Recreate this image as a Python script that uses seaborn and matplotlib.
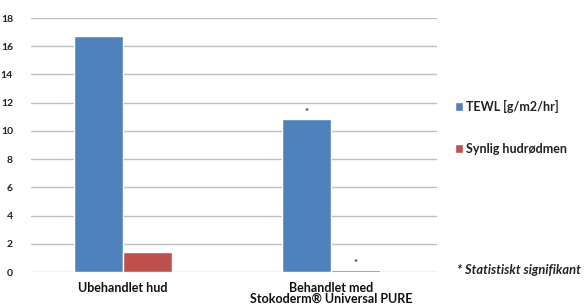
import pandas as pd
import seaborn as sns
import matplotlib.pyplot as plt
from matplotlib.patches import Patch

categories = ['Ubehandlet hud', 'Behandlet med\nStokoderm® Universal PURE']
series = ['TEWL [g/m2/hr]', 'Synlig hudrødmen']
tewl = [16.7, 10.85]
redness = [1.45, 0.12]
significant = [(1, 0), (1, 1)]  # (category, series) marked with *
colors = ['#4F81BD', '#C0504D']

df = pd.DataFrame({
    'kategori': categories * 2,
    'serie': [series[0]] * 2 + [series[1]] * 2,
    'verdi': tewl + redness,
})

sns.set_theme(style='white')
plt.rcParams['font.family'] = ['Lato', 'DejaVu Sans']

fig = plt.figure(figsize=(5.86, 3.07), dpi=100)
ax = fig.add_axes([31 / 586, 1 - 272 / 307, 406 / 586, 254 / 307])

sns.barplot(data=df, x='kategori', y='verdi', hue='serie', palette=colors,
            width=0.47, saturation=1, ax=ax, legend=False)

ax.set_xlim(-0.44, 1.51)
ax.set_ylim(0, 18)
ax.set_yticks(range(0, 19, 2))
ax.yaxis.grid(True, color='#bfbfbf', linewidth=1)
ax.set_axisbelow(True)
for s in ax.spines.values():
    s.set_visible(False)
ax.set_xlabel('')
ax.set_ylabel('')
ax.tick_params(axis='y', length=0, pad=13, labelsize=7.5, labelcolor='#222222')
ax.tick_params(axis='x', length=0, pad=7, labelsize=9, labelcolor='#111111')
for lab in ax.get_yticklabels() + ax.get_xticklabels():
    lab.set_fontweight('bold')
    lab.set_linespacing(0.95)

# asterisks over significant bars
vals = [tewl, redness]
for cat, ser in significant:
    patch = ax.patches[ser * len(categories) + cat]
    xc = patch.get_x() + patch.get_width() / 2
    ax.text(xc, vals[ser][cat] + 0.15, '*', ha='center', va='bottom',
            fontsize=7, fontweight='bold', color='#333333')

handles = [Patch(facecolor=c, label=s) for c, s in zip(colors, series)]
fig.legend(handles=handles, loc='upper left', bbox_to_anchor=(455 / 586, 1 - 100 / 307),
           frameon=False, handlelength=0.65, handleheight=0.65, handletextpad=0.25,
           labelspacing=2.4, prop={'weight': 'bold', 'size': 9},
           labelcolor='#222222', borderpad=0, borderaxespad=0)

fig.text(457 / 586, 1 - 270 / 307, '* Statistiskt signifikant', fontsize=9.3,
         style='italic', fontweight='bold', color='#222222', va='center')

plt.savefig('out.png', dpi=100)
